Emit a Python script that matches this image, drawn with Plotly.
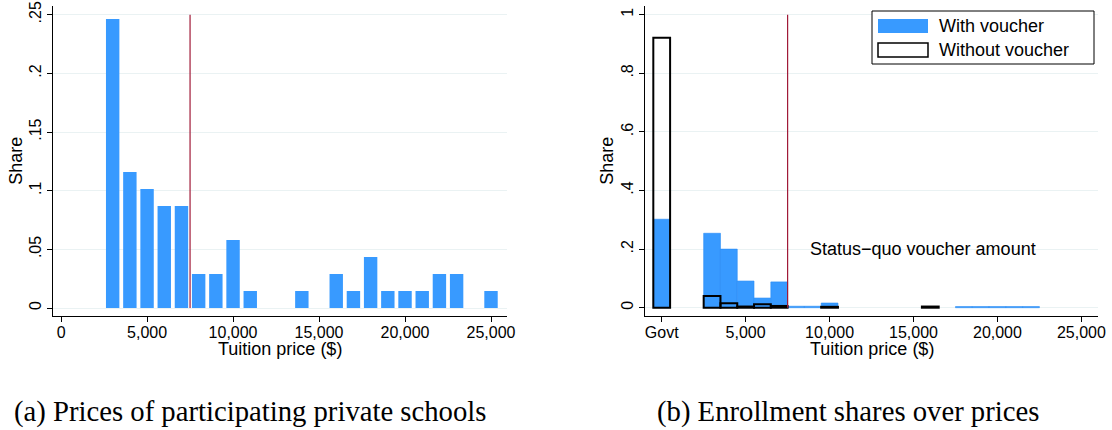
import plotly.graph_objects as go
from plotly.subplots import make_subplots

# ---------------- data ----------------
# Panel (a): share of participating private schools by tuition bin (bin centers, $)
price_bins_a = [3000, 4000, 5000, 6000, 7000, 8000, 9000, 10000, 11000,
                14000, 16000, 17000, 18000, 19000, 20000, 21000, 22000, 23000, 25000]
share_a = [0.2464, 0.1159, 0.1014, 0.0870, 0.0870, 0.0290, 0.0290, 0.0580, 0.0145,
           0.0145, 0.0290, 0.0145, 0.0435, 0.0145, 0.0145, 0.0145, 0.0290, 0.0290, 0.0145]

# Panel (b): enrollment shares (0 = Govt)
bins_with = [0, 3000, 4000, 5000, 6000, 7000, 8000, 9000, 10000,
             18000, 19000, 20000, 21000, 22000]
share_with = [0.302, 0.254, 0.200, 0.091, 0.033, 0.088, 0.005, 0.005, 0.016,
              0.004, 0.004, 0.004, 0.004, 0.004]
bins_without = [0, 3000, 4000, 5000, 6000, 7000, 10000, 16000]
share_without = [0.921, 0.040, 0.015, 0.004, 0.0115, 0.006, 0.003, 0.004]

voucher_amount = 7500
xticks_b = [0, 5000, 10000, 15000, 20000, 25000]
xticktext_b = ["Govt", "5,000", "10,000", "15,000", "20,000", "25,000"]
yticks_a = [0, 0.05, 0.1, 0.15, 0.2, 0.25]
yticktext_a = ["0", ".05", ".1", ".15", ".2", ".25"]
yticks_b = [0, 0.2, 0.4, 0.6, 0.8, 1]
yticktext_b = ["0", ".2", ".4", ".6", ".8", "1"]

BLUE = "rgb(56,154,255)"
RED = "rgb(160,25,55)"
GRID = "rgb(234,242,243)"
FONT = "Liberation Sans"

# ---------------- layout helpers (pixel -> paper) ----------------
L, R, T, B = 53, 1098, 6, 316
W, H = R - L, B - T
def px(x):
    return (x - L) / W
def py(y):
    return (B - y) / H

fig = make_subplots(rows=1, cols=2, horizontal_spacing=0.1321)

fig.add_trace(go.Bar(x=price_bins_a, y=share_a, width=780,
                     marker=dict(color=BLUE, line=dict(width=0)),
                     showlegend=False), row=1, col=1)

fig.add_trace(go.Bar(x=bins_with, y=share_with, width=1000,
                     marker=dict(color=BLUE, line=dict(width=0.6, color="rgb(40,140,245)")),
                     name="With voucher", showlegend=False), row=1, col=2)
fig.add_trace(go.Bar(x=bins_without, y=share_without, width=1000,
                     marker=dict(color="rgba(0,0,0,0)", line=dict(width=2, color="black")),
                     name="Without voucher", showlegend=False), row=1, col=2)

fig.update_layout(barmode="overlay")

# voucher lines
fig.add_shape(type="line", x0=voucher_amount, x1=voucher_amount, y0=0, y1=0.25,
              xref="x", yref="y", line=dict(color=RED, width=1.2))
fig.add_shape(type="line", x0=voucher_amount, x1=voucher_amount, y0=0, y1=1,
              xref="x2", yref="y2", line=dict(color=RED, width=1.2))

axis_common = dict(showline=True, linecolor="black", linewidth=1,
                   ticks="outside", ticklen=5, tickcolor="black",
                   tickfont=dict(family=FONT, size=16, color="black"),
                   zeroline=False, automargin=False)

fig.update_xaxes(range=[-470, 25930], showgrid=False, tickvals=[0, 5000, 10000, 15000, 20000, 25000],
                 tickformat=",", domain=[0, px(507)], ticklabelstandoff=-3,
                 row=1, col=1, **axis_common)
fig.update_xaxes(range=[-995, 25990], showgrid=False, tickvals=xticks_b, ticktext=xticktext_b,
                 domain=[px(645), 1], ticklabelstandoff=-3, row=1, col=2, **axis_common)
fig.update_yaxes(range=[-0.0068, 0.2574], tickvals=yticks_a, ticktext=yticktext_a,
                 showgrid=True, gridcolor=GRID, gridwidth=1, tickangle=-90,
                 row=1, col=1, **axis_common)
fig.update_yaxes(range=[-0.0283, 1.0297], tickvals=yticks_b, ticktext=yticktext_b,
                 showgrid=True, gridcolor=GRID, gridwidth=1, tickangle=-90,
                 row=1, col=2, **axis_common)

ann = []
def txt(text, x, y, size=18, angle=0, xanchor="center", family=FONT, xref="paper", yref="paper"):
    ann.append(dict(text=text, x=x, y=y, xref=xref, yref=yref, showarrow=False,
                    xanchor=xanchor, yanchor="middle", textangle=angle,
                    font=dict(family=family, size=size, color="black")))

txt("Share", px(15.7), py(161), angle=-90)
txt("Share", px(606.7), py(161), angle=-90)
txt("Tuition price ($)", px(280), py(349))
txt("Tuition price ($)", px(871.5), py(349))
txt("Status\u2212quo voucher amount", 8700, 0.2, xanchor="left", xref="x2", yref="y2")
txt("(a) Prices of participating private schools", px(12), py(411), size=28.7,
    xanchor="left", family="Liberation Serif")
txt("(b) Enrollment shares over prices", px(655), py(411), size=28.7,
    xanchor="left", family="Liberation Serif")

# custom legend
fig.add_shape(type="rect", xref="paper", yref="paper", x0=px(872), x1=px(1094),
              y0=py(64), y1=py(11), line=dict(color="black", width=1), fillcolor="white")
fig.add_shape(type="rect", xref="paper", yref="paper", x0=px(878), x1=px(928),
              y0=py(33), y1=py(19), line=dict(color=BLUE, width=0), fillcolor=BLUE)
fig.add_shape(type="rect", xref="paper", yref="paper", x0=px(878), x1=px(928),
              y0=py(57), y1=py(43), line=dict(color="black", width=1.5), fillcolor="white")
txt("With voucher", px(937), py(26), xanchor="left")
txt("Without voucher", px(937), py(50), xanchor="left")

fig.update_layout(annotations=ann, width=1112, height=430,
                  margin=dict(l=L, r=1112 - R, t=T, b=430 - B),
                  paper_bgcolor="white", plot_bgcolor="white",
                  font=dict(family=FONT, size=16, color="black"),
                  showlegend=False)

fig.write_html("out.html", config={"displayModeBar": False},
               post_script="document.body.style.margin='0';")
